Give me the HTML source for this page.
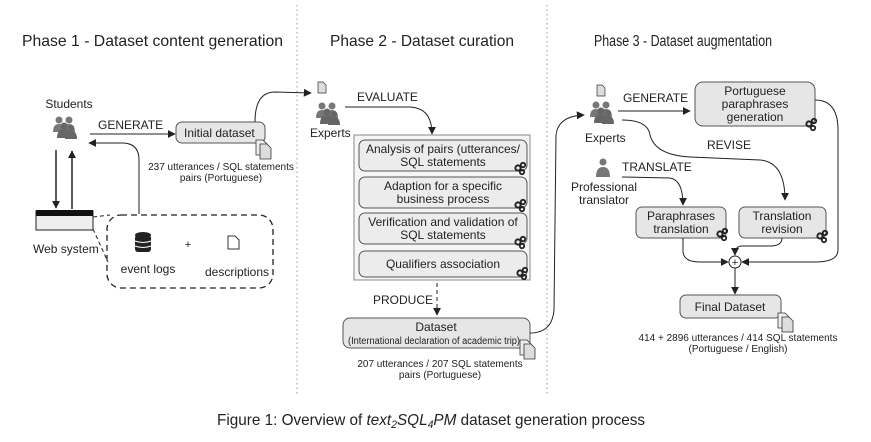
<!DOCTYPE html>
<html><head><meta charset="utf-8"><style>
html,body{margin:0;padding:0;background:#fff;}
svg{display:block;font-family:"Liberation Sans",sans-serif;}
</style></head><body>
<svg width="871" height="442" viewBox="0 0 871 442" xmlns="http://www.w3.org/2000/svg">
<defs>
<marker id="ah" viewBox="0 0 10 10" refX="9" refY="5" markerWidth="8" markerHeight="8" orient="auto-start-reverse" markerUnits="userSpaceOnUse"><path d="M0,0 L10,5 L0,10 z" fill="#222"/></marker>
<g id="gear"><circle cx="0" cy="0" r="2.6" fill="none" stroke="#222" stroke-width="2"/><circle cx="5" cy="-3" r="2.2" fill="none" stroke="#222" stroke-width="1.8"/><circle cx="4" cy="4" r="2.2" fill="none" stroke="#222" stroke-width="1.8"/></g>
<g id="doc"><path d="M0,0 h7 l4,4 v11 h-11 z" fill="#eee" stroke="#333" stroke-width="0.8"/><path d="M4,4 h7 l4,4 v11 h-11 z" fill="#ddd" stroke="#333" stroke-width="0.8"/></g>
<g id="ppl" fill="#777"><circle cx="6" cy="4" r="3.5"/><circle cx="16" cy="4" r="3.5"/><path d="M0,16 q0,-8 6,-8 q6,0 6,8z"/><path d="M10,16 q0,-8 6,-8 q6,0 6,8z"/><circle cx="11" cy="10" r="3.5" fill="#666"/><path d="M4,22 q0,-9 7,-9 q7,0 7,9z" fill="#666"/><circle cx="18" cy="12" r="3" fill="#666"/><path d="M12,23 q0,-8 6,-8 q6,0 6,8z" fill="#666"/></g>
</defs>
<g font-size="16" fill="#222">
<text x="22" y="46" textLength="261" lengthAdjust="spacingAndGlyphs">Phase 1 - Dataset content generation</text>
<text x="330" y="46" textLength="184" lengthAdjust="spacingAndGlyphs">Phase 2 - Dataset curation</text>
<text x="594" y="46" font-size="15.5" textLength="178" lengthAdjust="spacingAndGlyphs">Phase 3 - Dataset augmentation</text>
</g>
<line x1="297" y1="5" x2="297" y2="395" stroke="#999" stroke-dasharray="1.5,3"/>
<line x1="547" y1="5" x2="547" y2="395" stroke="#999" stroke-dasharray="1.5,3"/>
<g font-size="11" fill="#222" stroke="none">
<!-- Phase 1 -->
<text x="69" y="108" text-anchor="middle" font-size="12">Students</text>
<use href="#ppl" x="53" y="116"/>
<text x="98" y="129" font-size="12">GENERATE</text>
<line x1="90" y1="134" x2="175" y2="134" stroke="#222" marker-end="url(#ah)"/>
<rect x="176" y="122" width="89" height="21" rx="6" fill="#e6e6e6" stroke="#555"/>
<text x="184" y="137" font-size="12">Initial dataset</text>
<use href="#doc" x="256" y="140"/>
<text x="221" y="170" text-anchor="middle" font-size="10">237 utterances / SQL statements</text>
<text x="221" y="181" text-anchor="middle" font-size="10">pairs (Portuguese)</text>
<line x1="56" y1="150" x2="56" y2="208" stroke="#222" stroke-width="1.5" marker-end="url(#ah)"/>
<line x1="72" y1="209" x2="72" y2="151" stroke="#222" stroke-width="1.5" marker-end="url(#ah)"/>
<rect x="36" y="211" width="57" height="19" fill="#eee" stroke="#222"/>
<rect x="36" y="210" width="57" height="6" fill="#111"/>
<text x="33" y="253" font-size="12">Web system</text>
<path d="M93,217 L110,215 M93,229 L108,262" stroke="#222" stroke-dasharray="4,3" fill="none"/>
<rect x="107" y="215" width="166" height="73" rx="14" fill="none" stroke="#222" stroke-width="1.3" stroke-dasharray="6,4"/>
<g fill="#222"><ellipse cx="143" cy="235" rx="8" ry="3"/><rect x="135" y="235" width="16" height="17" rx="3"/></g>
<path d="M135,241 q8,3 16,0 M135,246 q8,3 16,0" stroke="#fff" fill="none"/>
<text x="188" y="248" text-anchor="middle">+</text>
<path d="M228,236 h7 l4,4 v9 h-11z" fill="#fff" stroke="#333"/>
<text x="148" y="273" text-anchor="middle" font-size="12">event logs</text>
<text x="237" y="276" text-anchor="middle" font-size="12">descriptions</text>
<path d="M139,214 L139,160 Q139,143 122,143 L89,143" stroke="#222" fill="none" marker-end="url(#ah)"/>
<path d="M255,122 Q255,92 275,92 L311,93" stroke="#222" fill="none" marker-end="url(#ah)"/>
<!-- Phase 2 -->
<path d="M318,82 h5 l3,3 v8 h-8z" fill="#ddd" stroke="#333" stroke-width="0.7"/>
<use href="#ppl" x="316" y="102"/>
<text x="310" y="137" font-size="12">Experts</text>
<text x="357" y="101" font-size="12">EVALUATE</text>
<path d="M345,107 L410,107 Q432,108 432,134" stroke="#222" fill="none" marker-end="url(#ah)"/>
<rect x="354" y="135" width="176" height="145" fill="#f6f6f6" stroke="#888"/>
<rect x="359" y="140" width="168" height="31" rx="6" fill="#ececec" stroke="#555"/>
<text x="443" y="153" text-anchor="middle" font-size="12">Analysis of pairs (utterances/</text>
<text x="443" y="166" text-anchor="middle" font-size="12">SQL statements</text>
<rect x="359" y="177" width="168" height="31" rx="6" fill="#ececec" stroke="#555"/>
<text x="443" y="190" text-anchor="middle" font-size="12">Adaption for a specific</text>
<text x="443" y="203" text-anchor="middle" font-size="12">business process</text>
<rect x="359" y="213" width="168" height="31" rx="6" fill="#ececec" stroke="#555"/>
<text x="443" y="226" text-anchor="middle" font-size="12">Verification and validation of</text>
<text x="443" y="239" text-anchor="middle" font-size="12">SQL statements</text>
<rect x="359" y="251" width="168" height="26" rx="6" fill="#ececec" stroke="#555"/>
<text x="443" y="268" text-anchor="middle" font-size="12">Qualifiers association</text>
<use href="#gear" x="518" y="168"/><use href="#gear" x="518" y="205"/><use href="#gear" x="518" y="242"/><use href="#gear" x="520" y="273"/>
<line x1="437" y1="283" x2="437" y2="315" stroke="#222" stroke-dasharray="4,3" marker-end="url(#ah)"/>
<text x="373" y="304" font-size="12">PRODUCE</text>
<rect x="343" y="318" width="187" height="30" rx="7" fill="#e6e6e6" stroke="#555"/>
<text x="436" y="331" text-anchor="middle" font-size="12">Dataset</text>
<text x="434" y="344" text-anchor="middle" font-size="10" textLength="172" lengthAdjust="spacingAndGlyphs">(International declaration of academic trip)</text>
<use href="#doc" x="520" y="340"/>
<text x="440" y="367" text-anchor="middle" font-size="10">207 utterances / 207 SQL statements</text>
<text x="440" y="378" text-anchor="middle" font-size="10">pairs (Portuguese)</text>
<path d="M530,333 Q552,333 554,310 L556,135 Q558,116 584,115" stroke="#222" fill="none" marker-end="url(#ah)"/>
<!-- Phase 3 -->
<path d="M597,85 h5 l3,3 v8 h-8z" fill="#ddd" stroke="#333" stroke-width="0.7"/>
<use href="#ppl" x="590" y="101"/>
<text x="585" y="142" font-size="12">Experts</text>
<text x="623" y="102" font-size="12">GENERATE</text>
<line x1="618" y1="111" x2="690" y2="111" stroke="#222" marker-end="url(#ah)"/>
<rect x="695" y="82" width="120" height="44" rx="8" fill="#e6e6e6" stroke="#555"/>
<text x="755" y="95" text-anchor="middle" font-size="12">Portuguese</text>
<text x="755" y="108" text-anchor="middle" font-size="12">paraphrases</text>
<text x="755" y="121" text-anchor="middle" font-size="12">generation</text>
<use href="#gear" x="809" y="124"/>
<text x="707" y="149" font-size="12">REVISE</text>
<path d="M622,120 Q648,120 650,135 Q655,155 690,157 L760,160 Q785,162 785,200" stroke="#222" fill="none" marker-end="url(#ah)"/>
<g fill="#777"><circle cx="603" cy="162" r="3.5"/><path d="M596,177 q0,-10 7,-10 q7,0 7,10z"/></g>
<text x="622" y="171" font-size="12">TRANSLATE</text>
<text x="604" y="191" text-anchor="middle" font-size="12">Professional</text>
<text x="604" y="204" text-anchor="middle" font-size="12">translator</text>
<path d="M622,177 L670,178 Q683,180 683,205" stroke="#222" fill="none" marker-end="url(#ah)"/>
<rect x="636" y="207" width="90" height="31" rx="6" fill="#e6e6e6" stroke="#555"/>
<text x="681" y="220" text-anchor="middle" font-size="12">Paraphrases</text>
<text x="681" y="233" text-anchor="middle" font-size="12">translation</text>
<rect x="739" y="207" width="87" height="31" rx="6" fill="#e6e6e6" stroke="#555"/>
<text x="782" y="220" text-anchor="middle" font-size="12">Translation</text>
<text x="782" y="233" text-anchor="middle" font-size="12">revision</text>
<use href="#gear" x="720" y="234"/><use href="#gear" x="820" y="236"/>
<circle cx="735" cy="262" r="6" fill="#fff" stroke="#222"/>
<text x="735" y="266" text-anchor="middle" font-size="11">+</text>
<path d="M683,238 L683,252 Q684,262 700,262 L728,262" stroke="#222" fill="none" marker-end="url(#ah)"/>
<path d="M782,238 Q782,246 770,246 L742,246 Q735,246 735,255" stroke="#222" fill="none" marker-end="url(#ah)"/>
<path d="M815,100 Q838,100 838,130 L838,250 Q838,262 815,262 L742,262" stroke="#222" fill="none" marker-end="url(#ah)"/>
<line x1="735" y1="268" x2="735" y2="294" stroke="#222" marker-end="url(#ah)"/>
<rect x="680" y="295" width="101" height="23" rx="6" fill="#e6e6e6" stroke="#555"/>
<text x="730" y="311" text-anchor="middle" font-size="12">Final Dataset</text>
<use href="#doc" x="778" y="313"/>
<text x="738" y="341" text-anchor="middle" font-size="10">414 + 2896 utterances / 414 SQL statements</text>
<text x="738" y="352" text-anchor="middle" font-size="10">(Portuguese / English)</text>
</g>
<text x="217" y="425" font-size="16" fill="#222" textLength="428" lengthAdjust="spacingAndGlyphs">Figure 1: Overview of <tspan font-style="italic">text<tspan font-size="11" dy="3">2</tspan><tspan dy="-3">SQL</tspan><tspan font-size="11" dy="3">4</tspan><tspan dy="-3">PM</tspan></tspan> dataset generation process</text>
</svg>
</body></html>
